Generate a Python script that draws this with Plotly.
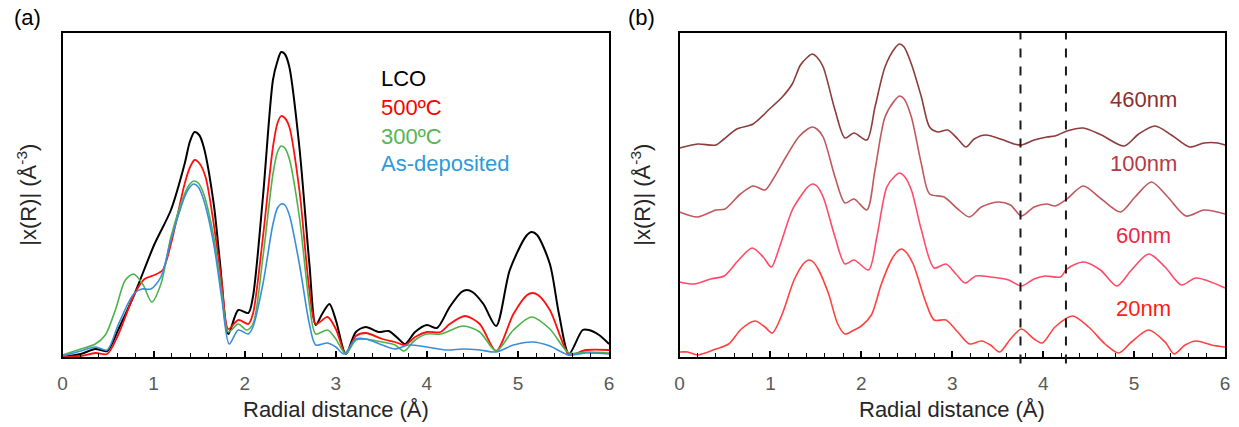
import plotly.graph_objects as go

# ---------------- Panel (a) data ----------------
lco_x = [0, 0.2, 0.36, 0.49, 0.61, 0.79, 1.01, 1.19, 1.34, 1.40, 1.45, 1.50, 1.55, 1.66, 1.73, 1.82, 1.93, 2.04, 2.09, 2.2, 2.31, 2.36, 2.4, 2.44, 2.49, 2.6, 2.71, 2.78, 2.85, 2.93, 3.0, 3.11, 3.22, 3.33, 3.47, 3.58, 3.69, 3.76, 3.87, 4.0, 4.11, 4.25, 4.38, 4.44, 4.5, 4.62, 4.76, 4.91, 5.09, 5.15, 5.21, 5.35, 5.45, 5.56, 5.71, 5.78, 5.89, 6.0]
lco_y = [0, 3, 8, 6, 27, 63, 113, 147, 193, 216, 225, 222, 210, 153, 93, 23, 47, 44, 60, 160, 277, 296, 305, 303, 290, 210, 93, 32, 43, 53, 37, 3, 25, 30, 25, 26, 18, 13, 25, 32, 29, 50, 65, 67, 65, 53, 31, 87, 121, 125, 122, 93, 43, 3, 27, 27, 22, 13]

c500_x = [0, 0.2, 0.36, 0.49, 0.61, 0.79, 0.9, 1.01, 1.1, 1.19, 1.34, 1.40, 1.45, 1.50, 1.57, 1.66, 1.75, 1.82, 1.93, 2.04, 2.09, 2.2, 2.31, 2.36, 2.4, 2.44, 2.49, 2.6, 2.71, 2.78, 2.91, 3.0, 3.11, 3.22, 3.33, 3.51, 3.65, 3.76, 3.87, 4.0, 4.15, 4.25, 4.42, 4.58, 4.76, 4.95, 5.10, 5.16, 5.22, 5.35, 5.56, 5.62, 5.75, 6.0]
c500_y = [0, 1, 4, 3, 22, 63, 78, 82, 87, 113, 173, 190, 197, 194, 180, 133, 73, 28, 37, 33, 43, 120, 210, 234, 241, 239, 230, 167, 67, 33, 40, 28, 3, 21, 24, 18, 15, 12, 20, 25, 25, 33, 41, 33, 6, 43, 62, 64, 62, 47, 2, 3, 7, 7]

c300_x = [0, 0.2, 0.36, 0.47, 0.58, 0.69, 0.78, 0.88, 0.98, 1.08, 1.19, 1.34, 1.39, 1.44, 1.49, 1.55, 1.66, 1.75, 1.82, 1.93, 2.02, 2.09, 2.2, 2.31, 2.36, 2.4, 2.44, 2.49, 2.6, 2.71, 2.78, 2.91, 3.0, 3.11, 3.22, 3.33, 3.51, 3.65, 3.75, 3.87, 4.0, 4.15, 4.4, 4.58, 4.76, 4.95, 5.15, 5.35, 5.56, 5.75, 6.0]
c300_y = [2, 8, 13, 22, 47, 77, 83, 73, 55, 73, 120, 163, 172, 176, 174, 163, 120, 63, 25, 33, 27, 33, 100, 183, 205, 211, 209, 198, 140, 53, 23, 27, 18, 3, 17, 18, 15, 12, 6, 17, 23, 23, 31, 25, 6, 27, 40, 28, 4, 5, 4]

asdep_x = [0, 0.2, 0.36, 0.49, 0.61, 0.78, 0.87, 0.97, 1.08, 1.19, 1.34, 1.39, 1.44, 1.49, 1.55, 1.66, 1.75, 1.83, 1.93, 2.04, 2.09, 2.2, 2.31, 2.36, 2.4, 2.44, 2.49, 2.6, 2.71, 2.78, 2.91, 3.0, 3.09, 3.22, 3.33, 3.51, 3.65, 3.8, 4.0, 4.22, 4.4, 4.58, 4.76, 4.95, 5.16, 5.35, 5.56, 5.75, 6.0]
asdep_y = [1, 6, 10, 7, 32, 63, 68, 68, 80, 117, 160, 169, 173, 170, 157, 113, 57, 13, 27, 23, 30, 73, 133, 149, 153, 152, 142, 93, 33, 12, 14, 10, 3, 18, 18, 12, 8, 12, 10, 7, 8, 7, 5, 12, 15, 11, 2, 4, 3]

# ---------------- Panel (b) data (vertically offset spectra) ----------------
n460_x = [0, 0.2, 0.4, 0.49, 0.63, 0.81, 0.99, 1.13, 1.24, 1.33, 1.41, 1.46, 1.51, 1.58, 1.71, 1.82, 1.92, 2.06, 2.15, 2.26, 2.37, 2.42, 2.47, 2.55, 2.66, 2.75, 2.84, 2.95, 3.06, 3.15, 3.24, 3.37, 3.53, 3.68, 3.76, 3.9, 4.04, 4.13, 4.26, 4.44, 4.64, 4.89, 5.05, 5.23, 5.41, 5.61, 5.77, 5.92, 6.0]
n460_y = [209, 213, 212, 218, 228, 233, 248, 260, 273, 292, 300, 303, 300, 290, 247, 219, 224, 217, 250, 290, 309, 313, 310, 293, 260, 230, 225, 227, 218, 210, 218, 222, 218, 213, 212, 217, 220, 221, 226, 229, 222, 211, 223, 231, 222, 210, 214, 214, 212]

n100_x = [0, 0.2, 0.4, 0.5, 0.67, 0.81, 0.94, 1.03, 1.17, 1.31, 1.41, 1.46, 1.51, 1.58, 1.71, 1.82, 1.92, 2.06, 2.15, 2.26, 2.37, 2.42, 2.47, 2.55, 2.66, 2.75, 2.91, 3.06, 3.19, 3.32, 3.5, 3.64, 3.76, 3.9, 4.04, 4.13, 4.26, 4.44, 4.64, 4.85, 5.01, 5.19, 5.37, 5.57, 5.77, 6.0]
n100_y = [145, 140, 147, 148, 163, 171, 167, 178, 200, 220, 228, 230, 228, 220, 180, 154, 158, 147, 187, 240, 257, 261, 258, 240, 193, 163, 160, 148, 140, 150, 155, 152, 141, 150, 153, 151, 158, 171, 158, 145, 160, 175, 160, 141, 147, 143]

n60_x = [0, 0.16, 0.34, 0.49, 0.65, 0.8, 0.92, 1.01, 1.1, 1.24, 1.35, 1.41, 1.46, 1.51, 1.58, 1.71, 1.82, 1.92, 2.08, 2.17, 2.28, 2.37, 2.42, 2.47, 2.55, 2.66, 2.8, 2.93, 3.04, 3.14, 3.26, 3.42, 3.62, 3.76, 3.9, 4.02, 4.19, 4.26, 4.44, 4.63, 4.81, 4.97, 5.16, 5.34, 5.52, 5.68, 6.0]
n60_y = [75, 73, 78, 81, 97, 109, 100, 90, 110, 147, 163, 170, 173, 171, 160, 120, 93, 97, 87, 120, 170, 181, 184, 181, 167, 127, 89, 93, 83, 74, 81, 80, 77, 71, 78, 81, 80, 88, 95, 87, 71, 87, 103, 90, 72, 79, 69]

n20_x = [0, 0.09, 0.2, 0.4, 0.54, 0.68, 0.83, 0.94, 1.02, 1.13, 1.26, 1.37, 1.42, 1.47, 1.53, 1.64, 1.74, 1.82, 1.92, 2.0, 2.11, 2.22, 2.33, 2.39, 2.44, 2.49, 2.57, 2.7, 2.8, 2.93, 3.06, 3.19, 3.32, 3.42, 3.52, 3.64, 3.76, 3.9, 3.99, 4.13, 4.32, 4.5, 4.68, 4.83, 4.97, 5.16, 5.34, 5.44, 5.56, 5.68, 5.85, 6.0]
n20_y = [5, 5, 2, 8, 13, 28, 36, 30, 24, 43, 77, 94, 97, 95, 87, 63, 33, 23, 27, 31, 42, 73, 97, 105, 108, 105, 93, 57, 37, 37, 25, 13, 16, 12, 5, 18, 28, 18, 14, 30, 41, 30, 13, 4, 15, 27, 15, 3, 12, 16, 12, 10]

x_ticks = [0, 1, 2, 3, 4, 5, 6]
dashed_x = [3.75, 4.25]

panel_a_series = [
    ("LCO", lco_x, lco_y, "#000000", 2.0),
    ("500ºC", c500_x, c500_y, "#FF1010", 1.8),
    ("300ºC", c300_x, c300_y, "#4DB34A", 1.6),
    ("As-deposited", asdep_x, asdep_y, "#3A8DDA", 1.6),
]
panel_a_labels = [("LCO", "#000000", 278), ("500ºC", "#FF0000", 249),
                  ("300ºC", "#55B555", 221), ("As-deposited", "#2E9BDB", 194)]

panel_b_series = [
    ("460nm", n460_x, n460_y, "#8E3B3B", 257),
    ("100nm", n100_x, n100_y, "#C1585E", 194),
    ("60nm", n60_x, n60_y, "#FF4A68", 122),
    ("20nm", n20_x, n20_y, "#FF4242", 49),
]
panel_b_label_colors = {"460nm": "#8B3030", "100nm": "#B53A45", "60nm": "#EE2648", "20nm": "#FF1A1A"}

FONT = "Liberation Sans, Arial, sans-serif"
W, H = 1239, 427


def px(p):
    return p / W


def py(p):
    return 1 - p / H


fig = go.Figure()
for name, xs, ys, col, lw in panel_a_series:
    fig.add_trace(go.Scatter(x=xs, y=ys, mode="lines", name=name,
                             line=dict(color=col, width=lw, shape="spline", smoothing=0.8),
                             xaxis="x", yaxis="y", showlegend=False))
for name, xs, ys, col, _ in panel_b_series:
    fig.add_trace(go.Scatter(x=xs, y=ys, mode="lines", name=name,
                             line=dict(color=col, width=1.6, shape="spline", smoothing=0.8),
                             xaxis="x2", yaxis="y2", showlegend=False))

ydom = [py(357), py(33)]
xa_dom = [px(58), px(609)]
xb_dom = [px(680), px(1230)]

xaxis_common = dict(range=[0, 6], tickvals=x_ticks, ticks="inside", ticklen=6, tickwidth=1.5,
                    tickcolor="#000", showline=True, linecolor="#000", linewidth=1.5, mirror=True,
                    showgrid=False, zeroline=False,
                    tickfont=dict(family=FONT, size=19, color="#595959"),
                    ticklabelstandoff=8,
                    minor=dict(dtick=0.2, ticks="inside", ticklen=4, tickwidth=1.2, tickcolor="#000", showgrid=False))
yaxis_common = dict(range=[0, 324], showticklabels=False, ticks="", showline=True, linecolor="#000",
                    linewidth=1.5, mirror=True, showgrid=False, zeroline=False, domain=ydom)

fig.update_layout(
    width=W, height=H, margin=dict(l=0, r=0, t=0, b=0),
    paper_bgcolor="white", plot_bgcolor="white",
    xaxis=dict(domain=xa_dom, anchor="y", **xaxis_common),
    yaxis=dict(anchor="x", **yaxis_common),
    xaxis2=dict(domain=xb_dom, anchor="y2", **xaxis_common),
    yaxis2=dict(anchor="x2", **yaxis_common),
)

ann = []
for txt, col, yv in panel_a_labels:
    ann.append(dict(x=3.47, y=yv, xref="x", yref="y", text=txt, showarrow=False,
                    xanchor="left", yanchor="middle", font=dict(family=FONT, size=22, color=col)))
for name, _, _, _, yv in panel_b_series:
    ann.append(dict(x=5.1, y=yv, xref="x2", yref="y2", text=name, showarrow=False,
                    xanchor="center", yanchor="middle",
                    font=dict(family=FONT, size=22, color=panel_b_label_colors[name])))

for dom, lab, lx, labx in [(xa_dom, "(a)", 22, 23), (xb_dom, "(b)", 641, 642)]:
    cx = (dom[0] + dom[1]) / 2
    ann.append(dict(x=cx, y=py(409), xref="paper", yref="paper", text="Radial distance (Å)",
                    showarrow=False, xanchor="center", yanchor="middle",
                    font=dict(family=FONT, size=22, color="#262626")))
    ann.append(dict(x=px(lx), y=py(195), xref="paper", yref="paper",
                    text="|x(R)| (Å<sup>-3</sup>)", textangle=-90,
                    showarrow=False, xanchor="center", yanchor="middle",
                    font=dict(family=FONT, size=22, color="#262626")))
    ann.append(dict(x=px(labx), y=py(17), xref="paper", yref="paper",
                    text=lab, showarrow=False, xanchor="center", yanchor="middle",
                    font=dict(family=FONT, size=22, color="#000")))
fig.update_layout(annotations=ann)

shapes = []
for xv in dashed_x:
    shapes.append(dict(type="line", xref="x2", yref="y2 domain", x0=xv, x1=xv, y0=-0.02, y1=1,
                       line=dict(color="#1a1a1a", width=2, dash="dash")))
fig.update_layout(shapes=shapes)

# remove the default page margin so the figure fills the 1239x427 window exactly
fig.write_html("out.html", config={"displayModeBar": False},
               post_script="document.body.style.margin='0px';document.body.style.overflow='hidden';")
